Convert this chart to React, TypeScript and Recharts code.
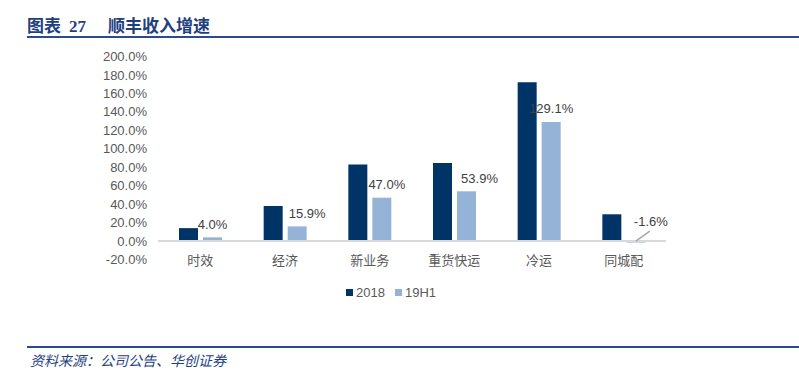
import React from 'react'
import { BarChart, Bar, XAxis, YAxis, ReferenceLine, LabelList } from 'recharts'

const categories = ['时效', '经济', '新业务', '重货快运', '冷运', '同城配']
const growth2018 = [14.0, 38.0, 83.0, 84.5, 172.0, 29.0]
const growth19H1 = [4.0, 15.9, 47.0, 53.9, 129.1, -1.6]
const yTicks = [-20, 0, 20, 40, 60, 80, 100, 120, 140, 160, 180, 200]

const DARK = '#003366'
const LIGHT = '#95B3D7'
const TEXT = '#595959'
const TITLE_BLUE = '#1F3F7F'
const FONT = '"Liberation Sans", Arial, "Noto Sans CJK SC", sans-serif'
const CJK = '"Noto Sans CJK SC", sans-serif'

// label nudges, to sit the value labels the way the source report has them
const LABEL_DX = [0, 10, 5, 13, 0, 15]

const data = categories.map((name, i) => ({
  name,
  y2018: growth2018[i],
  y19H1: growth19H1[i],
}))

function ValueLabel(props: any) {
  const { x, y, width, height, value, index } = props
  const cx = x + width / 2
  const dx = LABEL_DX[index] ?? 0
  if (value < 0) {
    const zeroY = Math.min(y, y + height)
    return (
      <g>
        <line x1={cx} y1={zeroY} x2={cx + 14} y2={zeroY - 10} stroke="#A6A6A6" strokeWidth={1.5} />
        <text x={cx + dx} y={zeroY - 20} dy="0.35em" textAnchor="middle" fontSize={13} fill="#404040" fontFamily={FONT}>
          {value.toFixed(1)}%
        </text>
      </g>
    )
  }
  const top = Math.min(y, y + height)
  return (
    <text x={cx + dx} y={top - 13} dy="0.35em" textAnchor="middle" fontSize={13} fill="#404040" fontFamily={FONT}>
      {value.toFixed(1)}%
    </text>
  )
}

function CategoryTick(props: any) {
  const { x, y, payload } = props
  return (
    <text x={x} y={y + 1} dy="0.35em" textAnchor="middle" fontSize={13} fill={TEXT} fontFamily={CJK}>
      {payload.value}
    </text>
  )
}

export default function App() {
  return (
    <div style={{ position: 'absolute', left: 0, top: 0, width: 799, height: 376, background: '#fff', fontFamily: FONT }}>
      <div style={{ position: 'absolute', left: 27, top: 14, fontFamily: CJK, fontWeight: 700, fontSize: 17, color: TITLE_BLUE, lineHeight: '22px', whiteSpace: 'nowrap' }}>
        <span>图表</span>
        <span style={{ fontFamily: '"Liberation Serif", serif', marginLeft: 8 }}>27</span>
        <span style={{ marginLeft: 22 }}>顺丰收入增速</span>
      </div>
      <div style={{ position: 'absolute', left: 27, top: 36, width: 772, height: 2, background: '#2B4C8C' }} />

      <div style={{ position: 'absolute', left: 0, top: 0 }}>
        <BarChart
          width={799}
          height={376}
          data={data}
          margin={{ top: 56.5, right: 133, bottom: 86.5, left: 0 }}
          barSize={19}
          barGap={5}
        >
          <XAxis
            dataKey="name"
            axisLine={false}
            tickLine={false}
            tickSize={0}
            tickMargin={0}
            height={30}
            tick={<CategoryTick />}
            interval={0}
          />
          <YAxis
            domain={[-20, 200]}
            ticks={yTicks}
            interval={0}
            axisLine={false}
            tickLine={false}
            tickSize={0}
            tickMargin={11}
            width={158}
            tick={{ fontSize: 13, fill: TEXT, fontFamily: FONT }}
            tickFormatter={(v: number) => `${v.toFixed(1)}%`}
          />
          <ReferenceLine y={0} stroke="#D9D9D9" strokeWidth={2} />
          <Bar dataKey="y2018" fill={DARK} isAnimationActive={false} />
          <Bar dataKey="y19H1" fill={LIGHT} isAnimationActive={false}>
            <LabelList dataKey="y19H1" content={<ValueLabel />} />
          </Bar>
        </BarChart>
      </div>

      <div style={{ position: 'absolute', left: 346, top: 284, display: 'flex', alignItems: 'center', fontSize: 13, color: TEXT, lineHeight: '17px' }}>
        <span style={{ display: 'inline-block', width: 7, height: 7, background: DARK, marginRight: 3 }} />
        <span>2018</span>
        <span style={{ display: 'inline-block', width: 7, height: 7, background: LIGHT, marginLeft: 10, marginRight: 3 }} />
        <span>19H1</span>
      </div>

      <div style={{ position: 'absolute', left: 27, top: 346, width: 772, height: 2, background: '#2B4C8C' }} />
      <div style={{ position: 'absolute', left: 30, top: 351, fontFamily: CJK, fontStyle: 'italic', fontSize: 14, color: TITLE_BLUE, lineHeight: '18px', whiteSpace: 'nowrap' }}>
        资料来源：公司公告、华创证券
      </div>
    </div>
  )
}
